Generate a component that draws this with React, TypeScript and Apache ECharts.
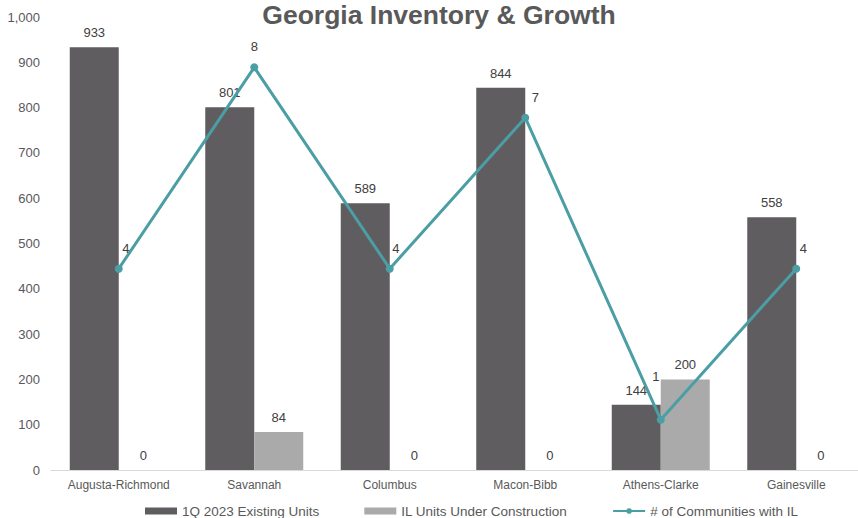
import React, { useEffect, useRef } from "react";
import * as echarts from "echarts";

const categories = ["Augusta-Richmond", "Savannah", "Columbus", "Macon-Bibb", "Athens-Clarke", "Gainesville"];
const existingUnits = [933, 801, 589, 844, 144, 558];
const underConstruction = [0, 84, 0, 0, 200, 0];
const communities = [4, 8, 4, 7, 1, 4];
const yTicks = [0, 100, 200, 300, 400, 500, 600, 700, 800, 900, 1000];

const lineLabelOffsets: [number, number][] = [[7, 0], [0, 0], [6, 0], [10, 0], [-5, -23], [7, 0]];

const FONT = "'Liberation Sans', Arial, sans-serif";
const TEXT = "#595959";

export default function App() {
  const ref = useRef<HTMLDivElement>(null);
  useEffect(() => {
    if (!ref.current) return;
    const chart = echarts.init(ref.current, undefined, { renderer: "svg" });
    chart.setOption({
      animation: false,
      backgroundColor: "#ffffff",
      textStyle: { fontFamily: FONT },
      title: {
        text: "Georgia Inventory & Growth",
        left: 434,
        textAlign: "center",
        top: -4,
        textStyle: { fontFamily: FONT, fontSize: 26.5, fontWeight: "bold", color: TEXT },
      },
      grid: { left: 51, width: 813, top: 17, height: 453, containLabel: false },
      legend: {
        top: 499,
        left: 140,
        itemGap: 45,
        itemWidth: 32,
        itemHeight: 7,
        textStyle: { fontFamily: FONT, fontSize: 13.5, color: TEXT },
        data: [
          { name: "1Q 2023 Existing Units", icon: "rect" },
          { name: "IL Units Under Construction", icon: "rect" },
          { name: "# of Communities with IL" },
        ],
      },
      xAxis: {
        type: "category",
        data: categories,
        axisLine: { lineStyle: { color: "#d9d9d9", width: 1 } },
        axisTick: { show: false },
        axisLabel: { fontFamily: FONT, fontSize: 12, color: TEXT, margin: 9, interval: 0 },
      },
      yAxis: [
        {
          type: "value",
          min: 0,
          max: yTicks[yTicks.length - 1],
          interval: 100,
          axisLine: { show: false },
          axisTick: { show: false },
          splitLine: { show: false },
          axisLabel: {
            fontFamily: FONT,
            fontSize: 13,
            color: TEXT,
            margin: 11,
            formatter: (v: number) => v.toLocaleString("en-US"),
          },
        },
        {
          type: "value",
          min: 0,
          max: 9,
          show: false,
          splitLine: { show: false },
        },
      ],
      series: [
        {
          name: "1Q 2023 Existing Units",
          type: "bar",
          data: existingUnits,
          barWidth: 49,
          barGap: "0%",
          itemStyle: { color: "#605d61" },
          label: { show: true, position: "top", fontFamily: FONT, fontSize: 13, color: "#404040", distance: 8 },
        },
        {
          name: "IL Units Under Construction",
          type: "bar",
          data: underConstruction,
          barWidth: 49,
          barGap: "0%",
          itemStyle: { color: "#a9aaa9" },
          label: { show: true, position: "top", fontFamily: FONT, fontSize: 13, color: "#404040", distance: 8 },
        },
        {
          name: "# of Communities with IL",
          type: "line",
          yAxisIndex: 1,
          data: communities.map((v, i) => ({
            value: v,
            label: { offset: lineLabelOffsets[i] },
          })),
          symbol: "circle",
          symbolSize: 8,
          lineStyle: { color: "#4a9ea4", width: 3 },
          itemStyle: { color: "#4a9ea4" },
          label: { show: true, position: "top", fontFamily: FONT, fontSize: 13, color: "#404040", distance: 10 },
          z: 5,
        },
      ],
    });
    return () => chart.dispose();
  }, []);
  return (
    <div style={{ width: 858, height: 518, position: "absolute", left: 0, top: 0, overflow: "hidden" }}>
      <div ref={ref} style={{ width: 872, height: 518 }} />
    </div>
  );
}
